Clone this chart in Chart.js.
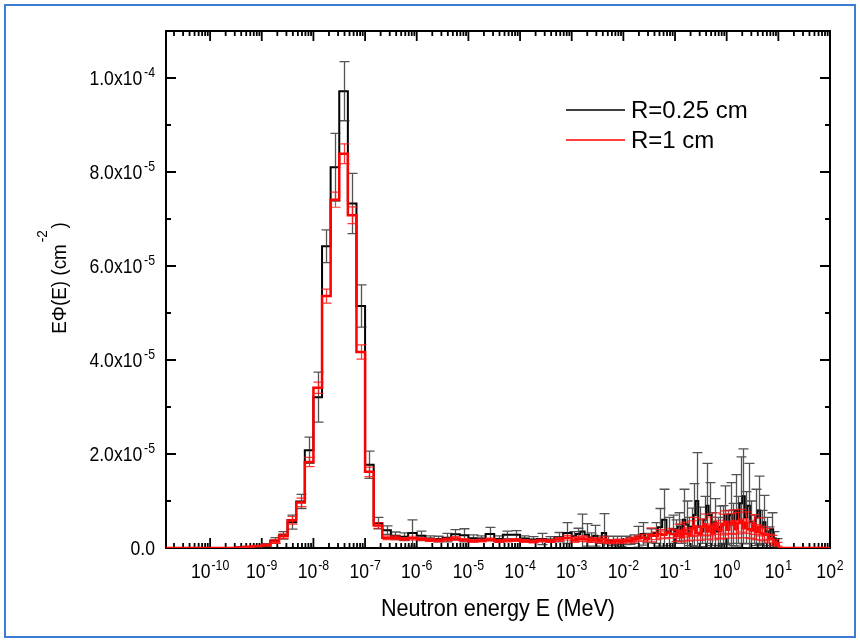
<!DOCTYPE html>
<html>
<head>
<meta charset="utf-8">
<script src="https://cdn.jsdelivr.net/npm/chart.js@4.4.1/dist/chart.umd.min.js"></script>
<style>
html,body{margin:0;padding:0;background:#fff;}
#wrap{position:relative;width:860px;height:641px;}
</style>
</head>
<body>
<div id="wrap"><canvas id="c" width="860" height="641"></canvas></div>
<script>
// ---------------- DATA ----------------
const seriesLabels = ['R=0.25 cm', 'R=1 cm'];

// Energy bin edges (MeV)
const binEdges = [
  1e-11,1.468e-11,2.154e-11,3.162e-11,4.642e-11,6.813e-11,
  1e-10,1.468e-10,2.154e-10,3.162e-10,4.642e-10,6.813e-10,
  1e-9,1.468e-9,2.154e-9,3.162e-9,4.642e-9,6.813e-9,
  1e-8,1.468e-8,2.154e-8,3.162e-8,4.642e-8,6.813e-8,
  1e-7,1.468e-7,2.154e-7,3.162e-7,4.642e-7,6.813e-7,
  1e-6,1.468e-6,2.154e-6,3.162e-6,4.642e-6,6.813e-6,
  1e-5,1.468e-5,2.154e-5,3.162e-5,4.642e-5,6.813e-5,
  1e-4,1.468e-4,2.154e-4,3.162e-4,4.642e-4,6.813e-4,
  1e-3,1.212e-3,1.468e-3,1.778e-3,2.154e-3,2.610e-3,3.162e-3,3.831e-3,4.642e-3,5.623e-3,6.813e-3,8.254e-3,
  1e-2,1.212e-2,1.468e-2,1.778e-2,2.154e-2,2.610e-2,3.162e-2,3.831e-2,4.642e-2,5.623e-2,6.813e-2,8.254e-2,
  0.1,0.1122,0.1259,0.1413,0.1585,0.1778,0.1995,0.2239,0.2512,0.2818,
  0.3162,0.3548,0.3981,0.4467,0.5012,0.5623,0.6310,0.7079,0.7943,0.8913,
  1.0,1.122,1.259,1.413,1.585,1.778,1.995,2.239,2.512,2.818,
  3.162,3.548,3.981,4.467,5.012,5.623,6.310,7.079,7.943,8.913,
  10,100
];

// E*Phi(E) (cm^-2), R = 0.25 cm
const fluxR025 = [
  0,0,0,0,0,0, 0,0,0,1.0e-7,2.0e-7,3.5e-7,
  6.0e-7,1.6e-6,2.7e-6,5.5e-6,9.9e-6,2.08e-5,
  3.21e-5,6.42e-5,8.10e-5,9.72e-5,7.33e-5,5.15e-5,
  1.77e-5,5.3e-6,3.8e-6,2.6e-6,2.4e-6,3.2e-6,
  2.6e-6,2.0e-6,1.9e-6,2.2e-6,2.9e-6,2.7e-6,
  2.1e-6,2.0e-6,3.0e-6,1.9e-6,2.8e-6,2.8e-6,
  2.0e-6,1.8e-6,1.9e-6,1.8e-6,2.3e-6,3.2e-6,
  2.5e-6,3.0e-6,3.5e-6,2.8e-6,2.2e-6,2.6e-6,1.8e-6,3.2e-6,1.7e-6,1.5e-6,1.6e-6,1.4e-6,
  1.6e-6,1.5e-6,1.9e-6,2.4e-6,3.0e-6,2.1e-6,2.6e-6,3.2e-6,4.4e-6,6.0e-6,3.5e-6,4.0e-6,
  3.5e-6,4.5e-6,3.0e-6,6.0e-6,5.0e-6,3.5e-6,4.5e-6,7.0e-6,1.0e-5,4.5e-6,
  3.5e-6,6.0e-6,9.0e-6,7.0e-6,4.0e-6,5.5e-6,3.5e-6,4.5e-6,5.0e-6,7.0e-6,
  4.5e-6,7.0e-6,5.0e-6,8.0e-6,6.0e-6,9.5e-6,1.1e-5,6.5e-6,9.0e-6,5.5e-6,
  4.0e-6,6.5e-6,8.0e-6,4.5e-6,5.5e-6,3.5e-6,2.5e-6,4.0e-6,2.0e-6,1.0e-6,
  0
];
const errR025 = [
  0,0,0,0,0,0, 0,0,0,5e-8,1e-7,1.5e-7,
  3e-7,6e-7,8e-7,1.5e-6,1.5e-6,2.8e-6,
  5.3e-6,3.5e-6,7.2e-6,6.3e-6,6.4e-6,4.5e-6,
  2.9e-6,1.2e-6,9e-7,8e-7,8e-7,2.8e-6,
  1.0e-6,6e-7,6e-7,9e-7,1.0e-6,1.4e-6,
  7e-7,6e-7,1.4e-6,7e-7,8e-7,9e-7,
  6e-7,6e-7,1.2e-6,6e-7,1.0e-6,2.2e-6,
  1.0e-6,1.2e-6,3.7e-6,2.4e-6,1.0e-6,2.2e-6,8e-7,4.1e-6,8e-7,1.0e-6,9e-7,1.1e-6,
  9e-7,7e-7,9e-7,2.2e-6,2.4e-6,1.0e-6,1.5e-6,2.2e-6,4.0e-6,6.5e-6,3.0e-6,3.0e-6,
  2.5e-6,3.0e-6,2.0e-6,6.5e-6,5.0e-6,3.0e-6,4.0e-6,6.7e-6,1.03e-5,4.2e-6,
  2.5e-6,5.0e-6,9.0e-6,6.9e-6,3.5e-6,5.0e-6,3.0e-6,4.4e-6,4.0e-6,6.2e-6,
  3.5e-6,6.9e-6,4.5e-6,7.6e-6,5.0e-6,9.9e-6,1.01e-5,5.5e-6,9.0e-6,4.5e-6,
  3.0e-6,6.0e-6,7.3e-6,3.5e-6,5.7e-6,3.0e-6,2.0e-6,3.5e-6,1.5e-6,1.0e-6,
  0
];

// E*Phi(E) (cm^-2), R = 1 cm
const fluxR1 = [
  0,0,0,0,0,0, 0,0,0,1.0e-7,2.5e-7,4.0e-7,
  6.5e-7,1.4e-6,2.5e-6,5.9e-6,9.7e-6,1.83e-5,
  3.41e-5,5.36e-5,7.41e-5,8.39e-5,7.08e-5,4.17e-5,
  1.62e-5,4.8e-6,2.2e-6,2.2e-6,1.9e-6,2.1e-6,
  1.9e-6,1.7e-6,1.6e-6,1.8e-6,2.0e-6,1.7e-6,
  1.5e-6,1.6e-6,1.8e-6,1.5e-6,1.6e-6,1.7e-6,
  1.5e-6,1.4e-6,1.6e-6,1.5e-6,1.8e-6,2.2e-6,
  1.7e-6,1.9e-6,2.0e-6,1.8e-6,1.6e-6,1.7e-6,1.5e-6,1.9e-6,1.4e-6,1.3e-6,1.5e-6,1.4e-6,
  1.5e-6,1.6e-6,1.8e-6,2.0e-6,2.2e-6,1.9e-6,2.8e-6,2.6e-6,3.0e-6,2.8e-6,3.2e-6,3.0e-6,
  2.6e-6,3.6e-6,2.4e-6,3.9e-6,3.0e-6,2.7e-6,4.1e-6,4.6e-6,3.2e-6,3.0e-6,
  4.4e-6,5.0e-6,3.5e-6,4.6e-6,3.2e-6,5.2e-6,4.0e-6,3.6e-6,5.0e-6,5.5e-6,
  3.9e-6,5.1e-6,5.6e-6,4.0e-6,5.3e-6,5.8e-6,4.2e-6,5.4e-6,4.0e-6,3.7e-6,
  5.0e-6,3.4e-6,4.5e-6,3.1e-6,2.8e-6,3.0e-6,2.0e-6,1.9e-6,1.2e-6,8e-7,
  0
];
const errR1 = [
  0,0,0,0,0,0, 0,0,0,5e-8,8e-8,1e-7,
  2e-7,4e-7,5e-7,8e-7,9e-7,1.0e-6,
  1.2e-6,1.5e-6,1.6e-6,2.1e-6,1.8e-6,1.5e-6,
  1.0e-6,6e-7,4e-7,4e-7,3e-7,4e-7,
  3e-7,3e-7,3e-7,3e-7,4e-7,3e-7,
  3e-7,3e-7,3e-7,3e-7,3e-7,3e-7,
  3e-7,3e-7,3e-7,3e-7,4e-7,5e-7,
  5e-7,5e-7,6e-7,5e-7,4e-7,5e-7,4e-7,6e-7,4e-7,4e-7,4e-7,4e-7,
  4e-7,5e-7,5e-7,6e-7,7e-7,6e-7,1.5e-6,8e-7,9e-7,8e-7,1.0e-6,9e-7,
  1.2e-6,1.5e-6,1.1e-6,1.6e-6,1.3e-6,1.2e-6,1.7e-6,1.9e-6,1.5e-6,1.4e-6,
  1.8e-6,2.2e-6,1.6e-6,2.0e-6,1.5e-6,2.3e-6,1.9e-6,1.7e-6,2.2e-6,2.4e-6,
  1.8e-6,2.2e-6,2.5e-6,1.9e-6,2.3e-6,2.4e-6,2.0e-6,2.3e-6,1.9e-6,1.7e-6,
  2.1e-6,1.6e-6,1.9e-6,1.5e-6,1.3e-6,1.2e-6,9e-7,8e-7,6e-7,4e-7,
  0
];

// Axis tick labels (base + superscript exponent)
const xTickExponents = [-10,-9,-8,-7,-6,-5,-4,-3,-2,-1,0,1,2];
const xTickBase = '10';
const yTickMantissas = ['0.0','2.0x10','4.0x10','6.0x10','8.0x10','1.0x10'];
const yTickExponents = ['','-5','-5','-5','-5','-4'];
const xTitle = 'Neutron energy E (MeV)';
const yTitleMain = 'EΦ(E) (cm';
const yTitleSup = '-2';
const yTitleEnd = ')';

// ---------------- CHART ----------------
const FONT = "'Liberation Sans', Arial, Helvetica, sans-serif";
Chart.defaults.font.family = FONT;
Chart.defaults.color = '#000';

function stepPoints(vals) {
  const pts = [];
  for (let i = 0; i < vals.length; i++) pts.push({x: binEdges[i], y: vals[i]});
  pts.push({x: binEdges[vals.length], y: vals[vals.length - 1]});
  return pts;
}

// text with superscript; (x, y) = anchor at baseline
function drawSupText(ctx, base, sup, x, y, align, o) {
  ctx.save();
  ctx.translate(x, y);
  if (o.rotate) ctx.rotate(o.rotate);
  ctx.scale(o.hs, 1);
  ctx.textAlign = 'left';
  ctx.textBaseline = 'alphabetic';
  ctx.fillStyle = '#000';
  ctx.font = o.size + 'px ' + FONT;
  const wb = ctx.measureText(base).width;
  ctx.font = o.supSize + 'px ' + FONT;
  const ws = sup ? ctx.measureText(sup).width + o.gap : 0;
  let we = 0;
  ctx.font = o.size + 'px ' + FONT;
  if (o.end) we = ctx.measureText(o.end).width + (o.endGap || 0);
  const total = wb + ws + we;
  const x0 = align === 'center' ? -total / 2 : (align === 'right' ? -total : 0);
  ctx.font = o.size + 'px ' + FONT;
  ctx.fillText(base, x0, 0);
  if (sup) {
    ctx.font = o.supSize + 'px ' + FONT;
    ctx.fillText(sup, x0 + wb + o.gap, -o.rise);
  }
  if (o.end) {
    ctx.font = o.size + 'px ' + FONT;
    ctx.fillText(o.end, x0 + wb + ws + (o.endGap || 0), 0);
  }
  ctx.restore();
}

const decorPlugin = {
  id: 'decor',
  beforeDraw(chart) {
    const ctx = chart.ctx;
    ctx.save();
    ctx.fillStyle = '#ffffff';
    ctx.fillRect(0, 0, chart.width, chart.height);
    ctx.strokeStyle = '#3b7dd6';
    ctx.lineWidth = 2;
    ctx.strokeRect(5, 5, chart.width - 10, chart.height - 9);
    ctx.restore();
  },
  beforeDatasetsDraw(chart) {
    const ctx = chart.ctx, ca = chart.chartArea, xs = chart.scales.x, ys = chart.scales.y;
    ctx.save();
    // tick marks (inward, all four sides)
    ctx.strokeStyle = '#000';
    ctx.lineWidth = 1.8;
    ctx.beginPath();
    xs.ticks.forEach(t => {
      const px = xs.getPixelForValue(t.value);
      if (px < ca.left - 0.5 || px > ca.right + 0.5) return;
      const len = t.major ? 10 : 5;
      ctx.moveTo(px, ca.bottom); ctx.lineTo(px, ca.bottom - len);
      ctx.moveTo(px, ca.top); ctx.lineTo(px, ca.top + len);
    });
    ys.ticks.forEach(t => {
      const py = ys.getPixelForValue(t.value);
      const len = t.major ? 10 : 5;
      ctx.moveTo(ca.left, py); ctx.lineTo(ca.left + len, py);
      ctx.moveTo(ca.right, py); ctx.lineTo(ca.right - len, py);
    });
    ctx.stroke();
    ctx.lineWidth = 2;
    ctx.strokeRect(ca.left, ca.top, ca.width, ca.height);
    ctx.restore();
  },
  afterDatasetDraw(chart, args) {
    const ds = chart.data.datasets[args.index];
    const vals = ds.binValues, errs = ds.errorValues;
    if (!errs) return;
    const ctx = chart.ctx, xs = chart.scales.x, ys = chart.scales.y, ca = chart.chartArea;
    ctx.save();
    ctx.beginPath();
    ctx.rect(ca.left, ca.top, ca.width, ca.height);
    ctx.clip();
    ctx.strokeStyle = ds.errorColor;
    ctx.lineWidth = ds.errorWidth;
    ctx.beginPath();
    for (let i = 0; i < vals.length; i++) {
      if (!(errs[i] > 0)) continue;
      const xc = Math.sqrt(binEdges[i] * binEdges[i + 1]);
      const px = Math.round(xs.getPixelForValue(xc)) + 0.5;
      const yTop = ys.getPixelForValue(vals[i] + errs[i]);
      const yBot = ys.getPixelForValue(vals[i] - errs[i]);
      ctx.moveTo(px, yBot); ctx.lineTo(px, yTop);
      ctx.moveTo(px - 5, yTop); ctx.lineTo(px + 5, yTop);
      ctx.moveTo(px - 5, yBot); ctx.lineTo(px + 5, yBot);
    }
    ctx.stroke();
    ctx.restore();
  },
  afterDraw(chart) {
    const ctx = chart.ctx, ca = chart.chartArea, xs = chart.scales.x, ys = chart.scales.y;
    ctx.save();
    // tick labels
    const lab = { size: 20, supSize: 14, hs: 0.88, gap: 1, rise: 8 };
    xs.ticks.forEach(t => {
      if (t.expo === undefined) return;
      const px = xs.getPixelForValue(t.value);
      drawSupText(ctx, xTickBase, String(t.expo), px, ca.bottom + 30, 'center', lab);
    });
    const ylab = { size: 20, supSize: 14, hs: 0.88, gap: 2, rise: 8 };
    ys.ticks.forEach(t => {
      if (t.mant === undefined) return;
      const py = ys.getPixelForValue(t.value);
      drawSupText(ctx, t.mant, t.sup, ca.left - 11, py + 7, 'right', ylab);
    });

    // axis titles
    drawSupText(ctx, xTitle, '', (ca.left + ca.right) / 2, 616, 'center',
      { size: 24, supSize: 14, hs: 0.9, gap: 0, rise: 0 });
    drawSupText(ctx, yTitleMain, yTitleSup, 66, 278, 'center',
      { size: 21, supSize: 15, hs: 0.9, gap: 2, rise: 19, end: yTitleEnd, endGap: 2, rotate: -Math.PI / 2 });

    // legend
    const items = chart.data.datasets;
    const lx0 = 566, lx1 = 625, ly0 = 110, dy = 30;
    ctx.font = '24px ' + FONT;
    ctx.textBaseline = 'middle';
    ctx.textAlign = 'left';
    items.forEach((ds, i) => {
      const y = ly0 + i * dy;
      ctx.strokeStyle = ds.borderColor;
      ctx.lineWidth = 1.5;
      ctx.beginPath(); ctx.moveTo(lx0, y); ctx.lineTo(lx1, y); ctx.stroke();
      ctx.fillStyle = '#000';
      ctx.fillText(ds.label, 631, y + 1);
    });
    ctx.restore();
  }
};

const chart = new Chart(document.getElementById('c'), {
  type: 'line',
  data: {
    datasets: [
      {
        label: seriesLabels[0],
        data: stepPoints(fluxR025),
        binValues: fluxR025,
        errorValues: errR025,
        errorColor: 'rgba(40,40,40,0.8)',
        errorWidth: 1.3,
        borderColor: '#000000',
        borderWidth: 2,
        stepped: true,
        pointRadius: 0,
        fill: false,
        order: 1
      },
      {
        label: seriesLabels[1],
        data: stepPoints(fluxR1),
        binValues: fluxR1,
        errorValues: errR1,
        errorColor: 'rgba(255,20,20,0.85)',
        errorWidth: 1.2,
        borderColor: '#ff0000',
        borderWidth: 2.5,
        stepped: true,
        pointRadius: 0,
        fill: false,
        order: 0
      }
    ]
  },
  options: {
    responsive: false,
    animation: false,
    devicePixelRatio: 1,
    layout: { padding: { top: 31, right: 30, left: 0, bottom: 0 } },
    plugins: { legend: { display: false }, tooltip: { enabled: false } },
    scales: {
      x: {
        type: 'logarithmic',
        position: 'bottom',
        min: 1.4e-11,
        max: 100,
        afterBuildTicks(scale) {
          const t = [];
          for (let e = -11; e <= 2; e++) {
            for (let k = 1; k <= 9; k++) {
              const v = k * Math.pow(10, e);
              if (v < scale.min * 0.9999 || v > scale.max * 1.0001) continue;
              const idx = k === 1 ? xTickExponents.indexOf(e) : -1;
              const tk = { value: v, major: idx >= 0 };
              if (idx >= 0) tk.expo = xTickExponents[idx];
              t.push(tk);
            }
          }
          scale.ticks = t;
        },
        afterFit(scale) { scale.height = 93; },
        grid: { display: false, drawTicks: false },
        border: { display: false },
        ticks: { display: false, autoSkip: false },
        title: { display: false, text: xTitle }
      },
      y: {
        type: 'linear',
        position: 'left',
        min: 0,
        max: 1.1e-4,
        afterBuildTicks(scale) {
          const t = [];
          for (let i = 0; i <= 11; i++) {
            const tk = { value: i * 1e-5, major: i % 2 === 0 };
            if (i % 2 === 0) { tk.mant = yTickMantissas[i / 2]; tk.sup = yTickExponents[i / 2]; }
            t.push(tk);
          }
          scale.ticks = t;
        },
        afterFit(scale) { scale.width = 166; },
        grid: { display: false, drawTicks: false },
        border: { display: false },
        ticks: { display: false, autoSkip: false },
        title: { display: false, text: yTitleMain + yTitleSup + yTitleEnd }
      }
    }
  },
  plugins: [decorPlugin]
});
</script>
</body>
</html>
